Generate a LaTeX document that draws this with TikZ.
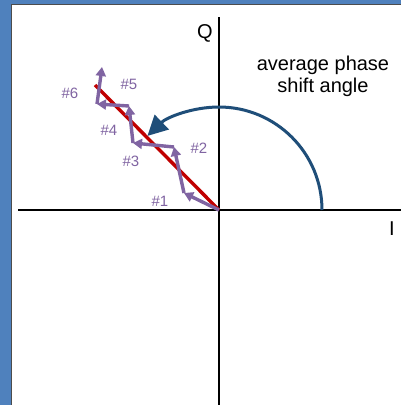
\documentclass[tikz,border=0pt]{standalone}
\usepackage{fontspec}
\setmainfont{Liberation Sans}
\usetikzlibrary{arrows.meta}
\definecolor{bgblue}{RGB}{79,129,189}
\definecolor{arcblue}{RGB}{31,78,121}
\definecolor{vecpurple}{RGB}{128,100,162}
\definecolor{avgred}{RGB}{192,0,0}
\tikzset{
  axis/.style={line width=2.8pt,black},
  vec/.style={line width=3.4pt,vecpurple,-{Triangle[length=9pt,width=10pt]},shorten >=0pt},
  veclabel/.style={text=vecpurple,font=\fontsize{15}{17}\selectfont,inner sep=0pt},
  axlabel/.style={font=\fontsize{20}{22}\selectfont,inner sep=0pt},
}
\begin{document}
\begin{tikzpicture}[x=1pt,y=-1pt]
\useasboundingbox (0,0) rectangle (401,405);
\fill[bgblue] (0,0) rectangle (401,405);
\fill[white] (11,4.5) rectangle (402,406);
\draw[line width=1pt,black!70] (11,406) -- (11,4.5) -- (402,4.5);
% axes
\coordinate (qtop) at (219,17);
\coordinate (qbot) at (219,405);
\coordinate (ileft) at (18,210);
\coordinate (iright) at (401,210);
\draw[axis] (qtop) -- (qbot);
\draw[axis] (ileft) -- (iright);
\node[axlabel] (Q) at (205,33) {Q};
\node[axlabel] (I) at (392,229) {I};
% average line
\coordinate (o) at (219,210);
\coordinate (redend) at (95,85);
\draw[line width=3.4pt,avgred] (o) -- (redend);
% arc
\draw[line width=3pt,arcblue,-{Triangle[length=20pt,width=20pt]}] (322,210) arc[start angle=0,end angle=-134,radius=103];
\node[axlabel,align=center] (lbl) at (323,76) {average phase\\shift angle};
% vectors
\coordinate (p1) at (184,193);
\coordinate (p2) at (174,147);
\coordinate (p3) at (133,143);
\coordinate (p4) at (129,106);
\coordinate (p5) at (97,104);
\coordinate (p6) at (102,67);
\draw[vec] (o) -- (p1);
\draw[vec] (p1) -- (p2);
\draw[vec] (p2) -- (p3);
\draw[vec] (p3) -- (p4);
\draw[vec] (p4) -- (p5);
\draw[vec] (p5) -- (p6);
\node[veclabel] (l1) at (160,201) {\#1};
\node[veclabel] (l2) at (199,148) {\#2};
\node[veclabel] (l3) at (131,161) {\#3};
\node[veclabel] (l4) at (109,130) {\#4};
\node[veclabel] (l5) at (129,84) {\#5};
\node[veclabel] (l6) at (70,93) {\#6};
\end{tikzpicture}
\end{document}
